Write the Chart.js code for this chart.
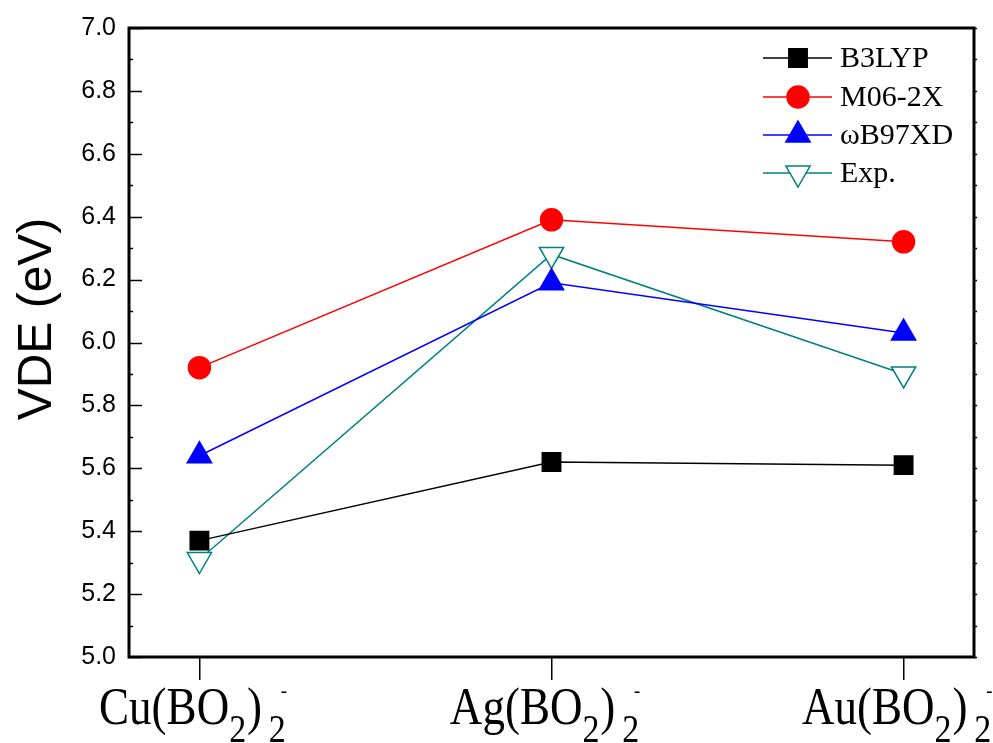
<!DOCTYPE html>
<html>
<head>
<meta charset="utf-8">
<script src="https://cdn.jsdelivr.net/npm/chart.js@4.4.0/dist/chart.umd.min.js"></script>
<style>
  body { margin: 0; background: #fff; }
  canvas { display: block; }
</style>
</head>
<body>
<canvas id="chart" width="993" height="743"></canvas>
<script>
var metals = ['Cu', 'Ag', 'Au'];
var seriesNames = ['B3LYP', 'M06-2X', 'ωB97XD', 'Exp.'];

var b3lyp = [5.37, 5.62, 5.61];
var m062x = [5.92, 6.39, 6.32];
var wb97xd = [5.64, 6.19, 6.03];
var expVals = [5.31, 6.28, 5.90];

var yMin = 5.0, yMax = 7.0, yStep = 0.2;
var yTitle = 'VDE (eV)';

function pts(arr) {
  return arr.map(function (v, i) { return { x: i, y: v }; });
}

var serif = '"Liberation Serif", "Times New Roman", serif';
var sans = '"Liberation Sans", Arial, sans-serif';

// axis frame, inward y ticks, y title
var framePlugin = {
  id: 'frame',
  afterDraw: function (chart) {
    var ctx = chart.ctx, a = chart.chartArea, y = chart.scales.y;
    ctx.save();
    ctx.strokeStyle = '#000';
    ctx.lineWidth = 1.5;
    for (var v = yMin; v <= yMax + 1e-9; v += yStep / 2) {
      var py = Math.round(y.getPixelForValue(v)) + 0.5;
      var major = Math.abs(Math.round(v / yStep) * yStep - v) < 1e-6;
      ctx.beginPath();
      ctx.moveTo(a.left, py);
      ctx.lineTo(a.left + (major ? 13 : 4), py);
      ctx.stroke();
      ctx.beginPath();
      ctx.moveTo(a.right, py);
      ctx.lineTo(a.right + 3, py);
      ctx.stroke();
    }
    ctx.lineWidth = 3;
    ctx.strokeRect(a.left, a.top, a.right - a.left, a.bottom - a.top);

    // axis title, a bit above the middle as in the original
    ctx.fillStyle = '#000';
    ctx.font = '48px ' + sans;
    ctx.textAlign = 'center';
    ctx.textBaseline = 'alphabetic';
    ctx.translate(51, 319);
    ctx.rotate(-Math.PI / 2);
    ctx.fillText(yTitle, 0, 0);
    ctx.restore();
  }
};

// category labels with sub/superscripts
var xLabelPlugin = {
  id: 'xlabels',
  afterDraw: function (chart) {
    var ctx = chart.ctx, xs = chart.scales.x;
    var big = '53px ' + serif, small = '40px ' + serif, sup = '22px ' + serif;
    var sx = 0.85, base = 724, subBase = 742;
    ctx.save();
    ctx.fillStyle = '#000';
    ctx.textAlign = 'left';
    ctx.textBaseline = 'alphabetic';
    metals.forEach(function (m, i) {
      var cx = xs.getPixelForValue(i);
      ctx.font = big;
      var w1 = ctx.measureText(m + '(BO').width;
      var w3 = ctx.measureText(')').width;
      ctx.font = small;
      var w2 = ctx.measureText('2').width;
      var total = w1 + w2 + 1 + w3 + 8 + w2;
      ctx.save();
      ctx.translate(cx - total * sx / 2 - 7, 0);
      ctx.scale(sx, 1);
      var x = 0;
      ctx.font = big; ctx.fillText(m + '(BO', x, base); x += w1;
      ctx.font = small; ctx.fillText('2', x, subBase); x += w2 + 1;
      ctx.font = big; ctx.fillText(')', x, base); x += w3 + 8;
      ctx.font = small; ctx.fillText('2', x, subBase);
      ctx.font = sup; ctx.fillText('-', x + w2 * 0.7, 697);
      ctx.restore();
    });
    ctx.restore();
  }
};

// legend in upper right of plot
var legendPlugin = {
  id: 'innerLegend',
  afterDraw: function (chart) {
    var ctx = chart.ctx;
    var rows = [58, 97, 135, 173];
    ctx.save();
    chart.data.datasets.forEach(function (ds, i) {
      var ry = rows[i];
      ctx.strokeStyle = ds.borderColor;
      ctx.lineWidth = 1.5;
      ctx.beginPath();
      ctx.moveTo(763, ry);
      ctx.lineTo(832, ry);
      ctx.stroke();
      ctx.fillStyle = ds.pointBackgroundColor;
      ctx.strokeStyle = ds.pointBorderColor;
      ctx.lineWidth = ds.pointBorderWidth;
      Chart.helpers.drawPoint(ctx, {
        pointStyle: ds.pointStyle,
        radius: ds.pointRadius,
        rotation: ds.pointRotation || 0,
        borderWidth: ds.pointBorderWidth
      }, 798, ry);
      ctx.fillStyle = '#000';
      ctx.font = '30px ' + serif;
      ctx.textAlign = 'left';
      ctx.textBaseline = 'middle';
      ctx.fillText(ds.label, 840, ry + 1);
    });
    ctx.restore();
  }
};

function makeSet(label, values, color, style, radius, fill, rot) {
  return {
    label: label,
    data: pts(values),
    borderColor: color,
    borderWidth: 1.5,
    pointStyle: style,
    pointRadius: radius,
    pointHoverRadius: radius,
    pointRotation: rot || 0,
    pointBackgroundColor: fill,
    pointBorderColor: color,
    pointBorderWidth: 1.5,
    tension: 0
  };
}

var config = {
  type: 'line',
  data: {
    datasets: [
      makeSet(seriesNames[0], b3lyp, '#000000', 'rect', 13, '#000000'),
      makeSet(seriesNames[1], m062x, '#ff0000', 'circle', 11, '#ff0000'),
      makeSet(seriesNames[2], wb97xd, '#0000ff', 'triangle', 14, '#0000ff'),
      makeSet(seriesNames[3], expVals, '#008080', 'triangle', 14, '#ffffff', 180)
    ]
  },
  options: {
    responsive: false,
    animation: false,
    layout: { padding: { top: 28, right: 19, left: 0, bottom: 0 } },
    plugins: {
      legend: { display: false },
      tooltip: { enabled: false }
    },
    scales: {
      x: {
        type: 'linear',
        min: -0.2,
        max: 2.2,
        afterBuildTicks: function (s) {
          s.ticks = metals.map(function (m, i) { return { value: i }; });
        },
        afterFit: function (s) { s.height = 86; },
        ticks: { display: false },
        border: { display: false },
        grid: {
          drawOnChartArea: false,
          drawTicks: true,
          tickLength: 23,
          color: '#000',
          lineWidth: 1.5
        }
      },
      y: {
        min: yMin,
        max: yMax,
        afterFit: function (s) { s.width = 129; },
        ticks: {
          stepSize: yStep,
          padding: 13,
          color: '#000',
          font: { family: sans, size: 25 },
          callback: function (v) { return Number(v).toFixed(1); }
        },
        border: { display: false },
        grid: { display: false, drawTicks: false },
        title: { display: false }
      }
    }
  },
  plugins: [framePlugin, xLabelPlugin, legendPlugin]
};

var myChart = new Chart(document.getElementById('chart'), config);
</script>
</body>
</html>
